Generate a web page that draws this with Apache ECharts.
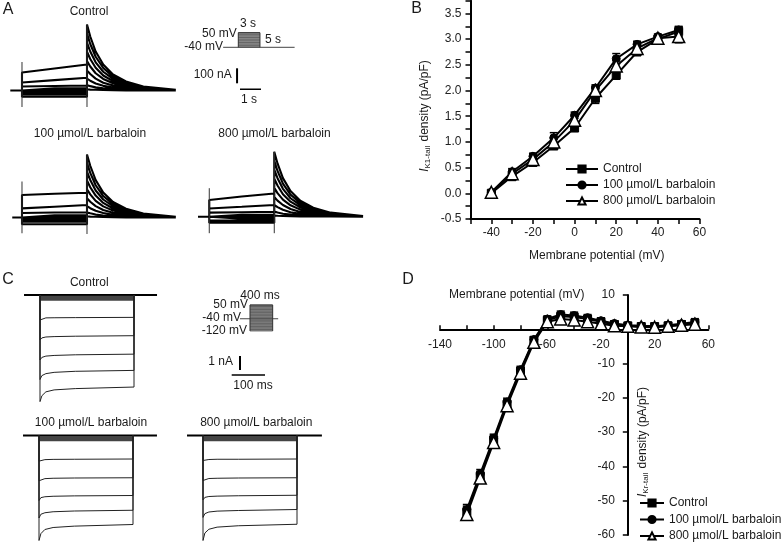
<!DOCTYPE html>
<html><head><meta charset="utf-8">
<script src="https://cdn.jsdelivr.net/npm/echarts@6/dist/echarts.min.js"></script>
<style>html,body{margin:0;padding:0;background:#fff}#c{width:784px;height:548px}</style>
</head><body><div id="c"></div><script>
const FONT = '"Liberation Sans", Arial, Helvetica, sans-serif';
const INK = '#111';
const NAMES = ['Control', '100 µmol/L barbaloin', '800 µmol/L barbaloin'];

// ---------- Panel A: current traces (time in s, current in nA) ----------
const A_STEP_T = [0, 1.5, 3];
const A_TAIL_T = [3, 3.15, 3.4, 3.75, 4.2, 4.8, 5.6, 7.1];
const A_PRE_T = [-0.54, -0.45, -0.52];
const A_ctrl_step = [[120,147,173],[53,69,85],[27,30,33],[13,14,15],[5,5,6],[-3,-3,-3],[-14,-14,-14],[-27,-27,-27],[-42,-42,-42]];
const A_ctrl_tail = [[440,360,260,173,107,60,27,5],[380,310,225,150,92,52,23,4],[320,260,188,125,77,43,19,4],[258,210,152,100,62,35,16,3],[196,160,115,77,48,27,12,2],[134,110,79,52,33,18,8,2],[80,65,47,31,19,11,5,1],[36,29,21,14,9,5,2,1],[8,6,5,3,2,1,1,0]];
const A_ctrl_cap = [190, -110, -110];
const A_100_step = [[150,158,165],[61,72,83],[30,33,35],[13,14,15],[5,5,6],[-3,-3,-3],[-14,-14,-14],[-28,-28,-28],[-45,-45,-45]];
const A_100_tail = [[420,345,250,166,103,58,26,5],[362,297,215,143,89,50,22,4],[305,250,180,120,75,42,19,4],[247,202,146,97,60,34,15,3],[188,154,111,74,46,26,12,2],[128,105,76,50,31,18,8,2],[76,62,45,30,18,10,5,1],[34,28,20,13,8,5,2,1],[8,6,5,3,2,1,1,0]];
const A_100_cap = [240, -105, -110];
const A_800_step = [[111,135,155],[55,66,78],[27,30,33],[12,13,14],[4,5,5],[-3,-3,-3],[-13,-13,-13],[-26,-26,-26],[-40,-40,-40]];
const A_800_tail = [[433,355,257,171,106,60,27,5],[372,305,221,147,91,51,23,4],[313,257,186,123,77,43,19,4],[253,208,150,100,62,35,16,3],[192,157,114,76,47,26,12,2],[131,107,78,51,32,18,8,2],[78,64,46,30,19,11,5,1],[35,28,20,14,9,5,2,1],[8,6,5,3,2,1,1,0]];
const A_800_cap = [190, -110, -110];
// protocol inset A (mV, s)
const PROTO_A_LEVELS = [-40,-30,-20,-10,0,10,20,30,40,50];
const PROTO_A_HOLD = [-2.1, 7.8];
const PROTO_A_STEP = [0, 3];
const SCALE_A_I = [40, 140];   // 100 nA
const SCALE_A_T = [0, 1];      // 1 s

// ---------- Panel C: current traces (time in ms, current in nA) ----------
const C_T = [0, 8, 25, 60, 150, 400];
const C_ctrl = [[-1.92,-1.8,-1.76,-1.75,-1.74,-1.72],[-3.46,-3.3,-3.23,-3.2,-3.17,-3.13],[-5.0,-4.8,-4.7,-4.65,-4.6,-4.55],[-6.5,-6.2,-6.05,-5.95,-5.87,-5.8],[-8.2,-7.75,-7.45,-7.3,-7.2,-7.08]];
const C_100 = [[-2.05,-1.96,-1.93,-1.91,-1.9,-1.88],[-3.62,-3.5,-3.45,-3.42,-3.4,-3.38],[-5.2,-4.97,-4.9,-4.86,-4.83,-4.8],[-6.6,-6.3,-6.18,-6.1,-6.04,-5.98],[-8.4,-7.85,-7.52,-7.36,-7.25,-7.12]];
const C_800 = [[-2.0,-1.95,-1.92,-1.9,-1.9,-1.88],[-3.6,-3.48,-3.44,-3.42,-3.4,-3.38],[-5.15,-4.95,-4.88,-4.85,-4.82,-4.78],[-6.55,-6.25,-6.12,-6.05,-6.0,-5.92],[-8.4,-7.8,-7.5,-7.33,-7.22,-7.1]];
const C_BAND = [-0.1,-0.2,-0.3,-0.4];
const C_SPAN = [[-68,498],[-68,502],[-68,506]];
const PROTO_C_LEVELS = [-120,-110,-100,-90,-80,-70,-60,-50,-40,-30,-20,-10,0,10,20,30,40,50];
const PROTO_C_HOLD = [-176, 497];
const PROTO_C_STEP = [0, 400];
const SCALE_C_I = [0.357, 1.357]; // 1 nA
const SCALE_C_T = [0, 100];       // 100 ms

// ---------- Panel B ----------
const B_V = [-40,-30,-20,-10,0,10,20,30,40,50];
const B_ctrl = [0.0,0.33,0.6,0.92,1.27,1.85,2.3,2.75,3.0,3.15];
const B_ctrl_err = [0.03,0.08,0.05,0.06,0.06,0.1,0.08,0.06,0.06,0.1];
const B_100 = [0.02,0.42,0.72,1.08,1.52,2.05,2.62,2.9,3.05,3.18];
const B_100_err = [0.03,0.06,0.06,0.1,0.06,0.06,0.1,0.06,0.05,0.06];
const B_800 = [0.02,0.38,0.66,1.0,1.42,2.0,2.48,2.82,3.02,3.05];
const B_800_err = [0.03,0.06,0.06,0.08,0.08,0.08,0.1,0.08,0.06,0.12];

// ---------- Panel D ----------
const D_V = [-120,-110,-100,-90,-80,-70,-60,-50,-40,-30,-20,-10,0,10,20,30,40,50];
const D_ctrl = [-53.2,-42.8,-32.3,-21.8,-12.2,-3.2,2.6,3.8,3.6,3.0,2.2,1.4,1.0,0.8,0.8,1.0,1.4,1.8];
const D_ctrl_err = [1.6,1.4,1.3,1.2,1.0,0.8,0.8,0.9,0.9,0.8,0.8,0.7,0.7,0.8,0.8,0.8,0.9,1.0];
const D_100 = [-52.6,-42.2,-31.8,-21.2,-11.8,-3.0,3.0,4.3,4.0,3.4,2.5,1.7,1.2,1.0,0.9,1.2,1.6,2.1];
const D_100_err = [1.5,1.3,1.2,1.1,1.0,0.8,0.9,1.0,1.0,0.9,0.8,0.7,0.7,0.7,0.8,0.8,0.9,1.0];
const D_800 = [-54.0,-43.4,-33.0,-22.3,-12.8,-3.8,2.2,3.0,2.7,2.2,1.6,1.0,0.9,0.7,0.6,0.9,1.2,1.5];
const D_800_err = [1.6,1.4,1.3,1.2,1.0,0.9,0.8,0.8,0.8,0.8,0.7,0.7,0.6,0.7,0.7,0.8,0.8,0.9];

// ================= build =================
const grids = [], xAxes = [], yAxes = [], series = [];
function addGrid(g, xa, ya) {
  const i = grids.length;
  grids.push(g);
  xAxes.push(Object.assign({type:'value', gridIndex:i, splitLine:{show:false}}, xa));
  yAxes.push(Object.assign({type:'value', gridIndex:i, splitLine:{show:false}}, ya));
  return i;
}
function hid(min, max) { return {min, max, show:false}; }
function lineS(gi, data, opts) {
  series.push(Object.assign({type:'line', xAxisIndex:gi, yAxisIndex:gi, data, symbol:'none', showSymbol:false,
    silent:true, connectNulls:false, lineStyle:{color:INK, width:1}, z:2}, opts||{}));
}
const BRK = ['-', '-'];

function aPanel(gi, step, tail, cap, pre) {
  const d = [];
  step.forEach((s, i) => {
    d.push([pre, 0], [0, 0]);
    A_STEP_T.forEach((t, j) => d.push([t, s[j]]));
    A_TAIL_T.forEach((t, j) => d.push([t, tail[i][j]]));
    d.push(BRK);
  });
  lineS(gi, d, {lineStyle:{color:'#000', width:2.1}});
  lineS(gi, [[0, cap[0]], [0, cap[1]], BRK, [3, tail[0][0]], [3, cap[2]]], {lineStyle:{color:'#333', width:1}});
}
const gA0 = addGrid({left:0.33, top:15.5, width:195, height:105}, hid(-1, 8), hid(-200, 500));
const gA1 = addGrid({left:0.33, top:142.5, width:195, height:105}, hid(-1, 8), hid(-200, 500));
const gA2 = addGrid({left:187.6, top:141.7, width:195, height:105}, hid(-1, 8), hid(-200, 500));
aPanel(gA0, A_ctrl_step, A_ctrl_tail, A_ctrl_cap, A_PRE_T[0]);
aPanel(gA1, A_100_step, A_100_tail, A_100_cap, A_PRE_T[1]);
aPanel(gA2, A_800_step, A_800_tail, A_800_cap, A_PRE_T[2]);

function protoPanel(gi, levels, hold, stepT, boxColor) {
  lineS(gi, [[hold[0], -40], [hold[1], -40]], {lineStyle:{color:'#444', width:1},
    markArea:{silent:true, itemStyle:{color:boxColor}, data:[[{coord:[stepT[0], levels[0]]}, {coord:[stepT[1], levels[levels.length-1]]}]]}});
  const d = [];
  levels.forEach(v => { d.push([stepT[0], v], [stepT[1], v], BRK); });
  lineS(gi, d, {lineStyle:{color:'#555', width:0.8}});
  lineS(gi, [[stepT[0], levels[0]], [stepT[0], levels[levels.length-1]], [stepT[1], levels[levels.length-1]], [stepT[1], levels[0]]], {lineStyle:{color:'#333', width:1}});
}
const gAP = addGrid({left:220, top:25, width:80, height:30}, hid(-2.535, 8.546), hid(-87.5, 97.5));
protoPanel(gAP, PROTO_A_LEVELS, PROTO_A_HOLD, PROTO_A_STEP, '#9a9a9a');
const gAS = addGrid({left:230, top:60, width:40, height:35}, hid(-0.476, 1.429), hid(-38, 195.3));
lineS(gAS, [[-0.14, SCALE_A_I[0]], [-0.14, SCALE_A_I[1]]], {lineStyle:{color:'#000', width:2}});
lineS(gAS, [[SCALE_A_T[0], 0], [SCALE_A_T[1], 0]], {lineStyle:{color:'#000', width:1.5}});

// ---------- B ----------
const gB = addGrid({left:470.5, top:0.66, width:229, height:218.3},
  {min:-50, max:60, interval:10,
   axisLine:{show:true, onZero:false, lineStyle:{color:'#000', width:2}},
   axisTick:{show:true, length:5, lineStyle:{color:'#000', width:1.5}},
   axisLabel:{show:true, margin:8, fontSize:12, fontFamily:FONT, color:'#222', formatter:v => (v % 20 === 0 && v >= -40) ? String(v) : ''}},
  {min:-0.5, max:3.75, interval:0.25,
   axisLine:{show:true, onZero:false, lineStyle:{color:'#000', width:2}},
   axisTick:{show:true, length:5, lineStyle:{color:'#000', width:1.5}},
   axisLabel:{show:true, margin:9, fontSize:12, fontFamily:FONT, color:'#222',
     formatter:v => (Math.abs(v*2 - Math.round(v*2)) < 1e-6 && v <= 3.5) ? v.toFixed(1) : ''}});

function errRender(params, api) {
  const x = api.value(0), lo = api.value(1), hi = api.value(2);
  const p1 = api.coord([x, lo]), p2 = api.coord([x, hi]);
  const cap = 4, st = {stroke:'#000', lineWidth:1.5};
  return {type:'group', children:[
    {type:'line', shape:{x1:p1[0], y1:p1[1], x2:p2[0], y2:p2[1]}, style:st},
    {type:'line', shape:{x1:p1[0]-cap, y1:p1[1], x2:p1[0]+cap, y2:p1[1]}, style:st},
    {type:'line', shape:{x1:p2[0]-cap, y1:p2[1], x2:p2[0]+cap, y2:p2[1]}, style:st}
  ]};
}
function errS(gi, xs, ys, es, nm) {
  series.push({type:'custom', name:nm, coordinateSystem:'cartesian2d', xAxisIndex:gi, yAxisIndex:gi, silent:true, z:1,
    renderItem:errRender, encode:{x:0, y:[1, 2]},
    data: xs.map((x, i) => [x, ys[i] - es[i], ys[i] + es[i]])});
}
const MARK = [
  {symbol:'rect', symbolSize:8, itemStyle:{color:'#000', borderColor:'#000', borderWidth:1}},
  {symbol:'circle', symbolSize:8, itemStyle:{color:'#000', borderColor:'#000', borderWidth:1}},
  {symbol:'triangle', symbolSize:12, itemStyle:{color:'#fff', borderColor:'#000', borderWidth:1.5}}
];
function ivSeries(gi, xs, sets, errs, tag) {
  sets.forEach((ys, k) => errS(gi, xs, ys, errs[k], 'err' + tag + k));
  sets.forEach((ys, k) => {
    series.push(Object.assign({type:'line', name:NAMES[k], xAxisIndex:gi, yAxisIndex:gi, silent:true, z:3 + k,
      showSymbol:true, data: xs.map((x, i) => [x, ys[i]]),
      lineStyle:{color:'#000', width:2, type:'solid'}}, MARK[k]));
  });
}
ivSeries(gB, B_V, [B_ctrl, B_100, B_800], [B_ctrl_err, B_100_err, B_800_err], 'B');

// ---------- C ----------
function cPanel(gi, sweeps, span) {
  lineS(gi, [[span[0], 0], [span[1], 0]], {lineStyle:{color:'#000', width:2}});
  const b = [];
  C_BAND.forEach(v => b.push([0, v], [400, v], BRK));
  lineS(gi, b, {lineStyle:{color:'#444', width:1.3}});
  const d = [];
  sweeps.forEach(s => {
    d.push([0, 0]);
    C_T.forEach((t, j) => d.push([t, s[j]]));
    d.push([400, 0], BRK);
  });
  lineS(gi, d, {lineStyle:{color:'#222', width:1}});
}
const gC0 = addGrid({left:16.5, top:282, width:164.5, height:130}, hid(-100, 600), hid(-9, 1));
const gC1 = addGrid({left:15.5, top:423, width:164.5, height:130}, hid(-100, 600), hid(-9, 1));
const gC2 = addGrid({left:179.5, top:423, width:164.5, height:130}, hid(-100, 600), hid(-9, 1));
cPanel(gC0, C_ctrl, C_SPAN[0]);
cPanel(gC1, C_100, C_SPAN[1]);
cPanel(gC2, C_800, C_SPAN[2]);
const gCP = addGrid({left:235, top:300, width:50, height:36}, hid(-264.5, 617.3), hid(-152.7, 82.7));
protoPanel(gCP, PROTO_C_LEVELS, PROTO_C_HOLD, PROTO_C_STEP, '#8f8f8f');
const gCS = addGrid({left:225, top:350, width:50, height:30}, hid(-20.1, 129.9), hid(-0.357, 1.786));
lineS(gCS, [[24.9, SCALE_C_I[0]], [24.9, SCALE_C_I[1]]], {lineStyle:{color:'#000', width:2}});
lineS(gCS, [[SCALE_C_T[0], 0], [SCALE_C_T[1], 0]], {lineStyle:{color:'#000', width:1.5}});

// ---------- D (axes cross at 0 via offsets) ----------
const D_GRID = {left:440, top:295, width:268.3, height:240};
const D_X = [-140, 60], D_Y = [-60, 10];
const dXoff = -(D_GRID.height * (0 - D_Y[0]) / (D_Y[1] - D_Y[0]));
const dYoff = -(D_GRID.width * (0 - D_X[0]) / (D_X[1] - D_X[0]));
const gD = addGrid(D_GRID,
  {min:D_X[0], max:D_X[1], interval:20, position:'bottom', offset:dXoff,
   axisLine:{show:true, onZero:false, lineStyle:{color:'#000', width:2}},
   axisTick:{show:true, inside:true, length:4, lineStyle:{color:'#000', width:1.5}},
   axisLabel:{show:true, margin:9, fontSize:12, fontFamily:FONT, color:'#222', formatter:v => ((v + 140) % 40 === 0) ? String(v) : ''}},
  {min:D_Y[0], max:D_Y[1], interval:10, position:'left', offset:dYoff,
   axisLine:{show:true, onZero:false, lineStyle:{color:'#000', width:2}},
   axisTick:{show:true, length:5, lineStyle:{color:'#000', width:1.5}},
   axisLabel:{show:true, margin:13, fontSize:12, fontFamily:FONT, color:'#222', formatter:v => v === 0 ? '' : String(v)}});
ivSeries(gD, D_V, [D_ctrl, D_100, D_800], [D_ctrl_err, D_100_err, D_800_err], 'D');

// ---------- texts ----------
function T(text, x, y, align, opts) {
  return Object.assign({type:'text', x, y, silent:true, z:100,
    style:Object.assign({text, fill:'#1a1a1a', fontSize:12, fontFamily:FONT, align:align || 'center', verticalAlign:'middle'}, (opts && opts.style) || {})},
    (opts && opts.el) || {});
}
const richSub = {
  i:{fontStyle:'italic', fontSize:12, fontFamily:FONT, fill:'#1a1a1a', verticalAlign:'middle'},
  s:{fontSize:8, fontFamily:FONT, fill:'#1a1a1a', verticalAlign:'bottom', padding:[5,1,0,0]}
};
const graphics = [
  T('A', 8, 10, 'center', {style:{fontSize:16}}),
  T('B', 416.7, 9, 'center', {style:{fontSize:16}}),
  T('C', 8, 280, 'center', {style:{fontSize:16}}),
  T('D', 408, 280, 'center', {style:{fontSize:16}}),
  T('Control', 89, 11.7),
  T('100 µmol/L barbaloin', 90, 133.3),
  T('800 µmol/L barbaloin', 274.5, 133.3),
  T('50 mV', 236.7, 33.3, 'right'),
  T('-40 mV', 223, 46.7, 'right'),
  T('3 s', 248, 24),
  T('5 s', 265, 40, 'left'),
  T('100 nA', 231.7, 75, 'right'),
  T('1 s', 249, 100),
  T('Control', 89.3, 282.3),
  T('100 µmol/L barbaloin', 91, 422.3),
  T('800 µmol/L barbaloin', 256.3, 422.3),
  T('400 ms', 260, 296),
  T('50 mV', 248, 305, 'right'),
  T('-40 mV', 241, 318, 'right'),
  T('-120 mV', 247, 331, 'right'),
  T('1 nA', 233, 361.7, 'right'),
  T('100 ms', 253, 386),
  T('Membrane potential (mV)', 596.7, 256),
  T('Membrane potential (mV)', 516.7, 295),
  {type:'text', x:425, y:116, rotation:Math.PI/2, silent:true, z:100,
   style:{text:'{i|I}{s|K1-tail} density (pA/pF)', rich:richSub, fill:'#1a1a1a', fontSize:12, fontFamily:FONT, align:'center', verticalAlign:'middle'}},
  {type:'text', x:643, y:442, rotation:Math.PI/2, silent:true, z:100,
   style:{text:'{i|I}{s|Kr-tail} density (pA/pF)', rich:richSub, fill:'#1a1a1a', fontSize:12, fontFamily:FONT, align:'center', verticalAlign:'middle'}}
];

const legendBase = {orient:'vertical', padding:0, selectedMode:false, itemHeight:9, data:NAMES,
  textStyle:{fontSize:12, fontFamily:FONT, color:'#1a1a1a'}};
const chart = echarts.init(document.getElementById('c'), null, {renderer:'canvas'});
chart.setOption({
  animation:false,
  backgroundColor:'#fff',
  textStyle:{fontFamily:FONT},
  grid:grids, xAxis:xAxes, yAxis:yAxes, series,
  legend:[
    Object.assign({}, legendBase, {left:565, top:163, itemWidth:32, itemGap:4}),
    Object.assign({}, legendBase, {left:639, top:497, itemWidth:24, itemGap:4.5})
  ],
  graphic:graphics
});
</script></body></html>
